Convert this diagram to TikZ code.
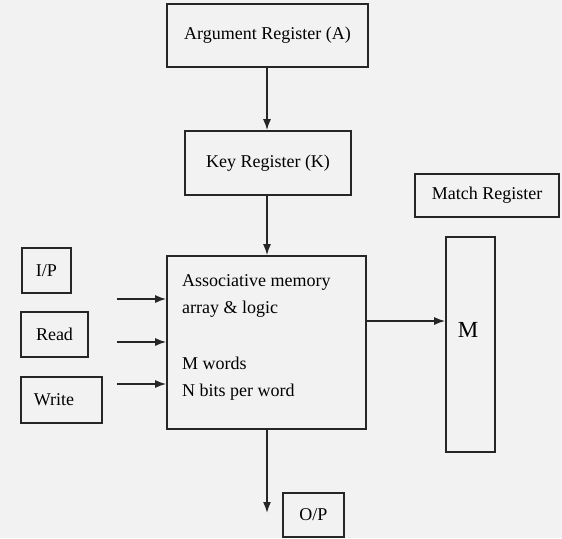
\documentclass[tikz,border=0pt]{standalone}
\usepackage{fontspec}
\setmainfont{Liberation Serif}
\usetikzlibrary{arrows.meta}
\begin{document}
\begin{tikzpicture}[x=1pt,y=-1pt,
  box/.style={draw=black!85, line width=1.6pt, inner sep=0pt, font=\fontsize{18}{20}\selectfont},
  txt/.style={inner sep=0pt, font=\fontsize{18}{27.5}\selectfont, align=left},
  arr/.style={draw=black!85, line width=1.6pt, -{Latex[length=11pt,width=8pt]}}]
\path[fill=black!5] (0,0) rectangle (562,538);
\useasboundingbox (0,0) rectangle (562,538);
% boxes
\node[box, minimum width=201pt, minimum height=63pt] (arg) at (267.5,35.5) {Argument Register (A)};
\node[box, minimum width=166pt, minimum height=64pt] (key) at (268,163) {Key Register (K)};
\node[box, minimum width=199pt, minimum height=173pt] (mem) at (266.5,342.5) {};
\node[txt, anchor=west] (t1) at (182,296) {Associative memory\\array \& logic};
\node[txt, anchor=west] (t2) at (182,378.5) {M words\\N bits per word};
\node[box, minimum width=144pt, minimum height=43pt] (mreg) at (487,195.5) {Match Register};
\node[box, minimum width=49pt, minimum height=215pt] (m) at (470.5,344.5) {};
\node[inner sep=0pt, font=\fontsize{23}{24}\selectfont] (mlab) at (468,330) {M};
\node[box, minimum width=49pt, minimum height=45pt] (ip) at (46.5,270.5) {I/P};
\node[box, minimum width=67pt, minimum height=45pt] (rd) at (54.5,334.5) {Read};
\node[box, minimum width=81pt, minimum height=46pt] (wr) at (61.5,400) {\hspace*{-15pt}Write};
\node[box, minimum width=61pt, minimum height=44pt] (op) at (313.5,515) {O/P};
% free ends
\coordinate (s1) at (117,299);
\coordinate (s2) at (117,342);
\coordinate (s3) at (117,384);
\coordinate (bot) at (267,513);
% connectors
\draw[arr] (arg.south -| 267,0) -- (key.north -| 267,0);
\draw[arr] (key.south -| 267,0) -- (mem.north -| 267,0);
\draw[arr] (s1) -- (s1 -| mem.west);
\draw[arr] (s2) -- (s2 -| mem.west);
\draw[arr] (s3) -- (s3 -| mem.west);
\draw[arr] (mem.east |- 0,321) -- (m.west |- 0,321);
\draw[arr] (mem.south -| bot) -- (bot);
\end{tikzpicture}
\end{document}
